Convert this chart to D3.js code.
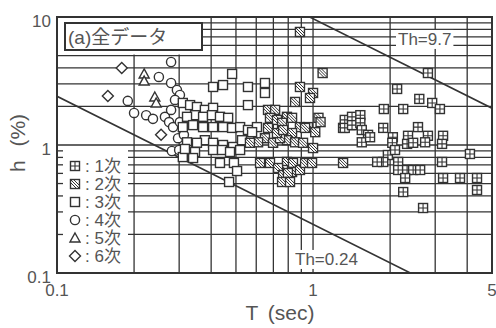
<!DOCTYPE html>
<html>
<head>
<meta charset="utf-8">
<script src="https://cdn.jsdelivr.net/npm/d3@7"></script>
<style>
  body { margin: 0; background: #fff; }
  text { fill: #555; font-family: 'Liberation Sans', 'Noto Sans CJK JP', sans-serif; }
</style>
</head>
<body>
<div id="chart"></div>
<script>
// data: [T (sec), h (%)]
var s1 = [[2.81, 3.65], [2.13, 2.74], [2.60, 2.29], [2.92, 2.13], [3.13, 1.91], [1.89, 1.91],
  [2.25, 1.91], [1.88, 1.36], [2.57, 1.38], [2.81, 1.18], [3.22, 1.18], [2.05, 1.15],
  [2.35, 1.18], [2.04, 1.04], [2.33, 1.02], [2.46, 1.04], [2.74, 1.05], [3.19, 1.02],
  [1.96, 0.835], [1.88, 0.737], [2.15, 0.737], [2.15, 0.638], [2.33, 0.638], [2.46, 0.638],
  [2.62, 0.638], [2.29, 0.552], [3.19, 0.737], [3.22, 0.552], [3.75, 0.552], [4.37, 0.552],
  [4.37, 0.445], [4.10, 0.851], [2.25, 0.429], [2.69, 0.322], [1.33, 1.57], [1.42, 1.66],
  [1.53, 1.71], [1.33, 1.36], [1.42, 1.43], [1.53, 1.49], [1.55, 1.31], [1.64, 1.20],
  [1.55, 1.05], [1.67, 1.15], [1.78, 0.737], [2.09, 0.914]]
var s2 = [[0.889, 7.64], [1.09, 3.65], [0.889, 2.84], [1.0, 2.55], [0.973, 2.33], [0.851, 2.17],
  [0.791, 1.66], [0.828, 1.63], [1.05, 1.63], [0.667, 1.88], [0.711, 1.88], [0.679, 1.63],
  [0.723, 1.57], [0.889, 1.38], [0.955, 1.38], [1.02, 1.26], [1.31, 1.36], [1.40, 1.43],
  [1.31, 0.724], [0.757, 1.49], [0.828, 1.24], [0.791, 1.09], [0.851, 1.05], [0.914, 1.04],
  [1.0, 0.947], [0.791, 0.737], [0.835, 0.724], [0.764, 0.638], [0.828, 0.615], [0.889, 0.638],
  [0.931, 0.724], [0.991, 0.724], [0.931, 1.36], [1.07, 1.51], [0.621, 0.724], [0.679, 0.724],
  [0.730, 0.661], [0.764, 0.583], [0.798, 0.604], [0.757, 0.514], [0.813, 0.514], [0.649, 1.13],
  [0.698, 1.04], [0.743, 1.13], [0.667, 1.36], [0.723, 1.24], [0.764, 1.31], [0.610, 1.05],
  [0.567, 1.04]]
var s3 = [[0.407, 2.84], [0.445, 2.94], [0.483, 3.59], [0.557, 2.84], [0.649, 3.05], [0.649, 2.55],
  [0.557, 2.05], [0.310, 2.13], [0.331, 2.05], [0.352, 1.98], [0.378, 1.88], [0.407, 1.95],
  [0.346, 1.71], [0.372, 1.66], [0.403, 1.71], [0.433, 1.66], [0.466, 1.63], [0.322, 1.66],
  [0.310, 1.38], [0.340, 1.43], [0.372, 1.38], [0.407, 1.38], [0.445, 1.38], [0.483, 1.36],
  [0.519, 1.38], [0.557, 1.31], [0.604, 1.38], [0.378, 1.09], [0.322, 1.05], [0.352, 1.04],
  [0.407, 1.04], [0.445, 1.0], [0.487, 0.965], [0.528, 1.09], [0.322, 0.914], [0.346, 0.882],
  [0.407, 0.914], [0.441, 0.914], [0.474, 0.882], [0.519, 0.914], [0.310, 0.805], [0.340, 0.791],
  [0.433, 0.724], [0.491, 0.724], [0.505, 0.626], [0.470, 0.514], [0.578, 1.26], [0.316, 0.931]]
var s4 = [[0.279, 4.45], [0.250, 3.40], [0.279, 3.05], [0.294, 2.69], [0.302, 2.46], [0.189, 2.21],
  [0.200, 1.78], [0.223, 1.71], [0.237, 1.60], [0.264, 1.66], [0.274, 1.51], [0.284, 1.38],
  [0.302, 1.51], [0.281, 0.898], [0.300, 0.914], [0.279, 1.88], [0.289, 2.25], [0.297, 1.13],
  [0.313, 1.20]]
var s5 = [[0.219, 3.59], [0.219, 3.16], [0.241, 2.37], [0.244, 2.13]]
var s6 = [[0.179, 4.0], [0.158, 2.41], [0.255, 1.20]]

var xTicks = [0.1, 1, 5]
var yTicks = [0.1, 1, 10]
var xGrid = [0.2, 0.3, 0.4, 0.5, 0.6, 0.7, 0.8, 0.9, 1, 2, 3, 4]
var yGrid = [0.2, 0.3, 0.4, 0.5, 0.6, 0.7, 0.8, 0.9, 1, 2, 3, 4, 5, 6, 7, 8, 9]
var thValues = [9.7, 0.24]
var legendLabels = ['1次', '2次', '3次', '4次', '5次', '6次']

var chart_width = 496
var chart_height = 328
var ink = '#333'

var svg = d3
  .select('#chart')
  .append('svg')
  .attr('width', chart_width)
  .attr('height', chart_height)

var x = d3.scaleLog().domain([0.1, 5]).range([57, 492])
var y = d3.scaleLog().domain([0.1, 10]).range([273, 17])

svg.append('clipPath').attr('id', 'plot-clip')
  .append('rect')
  .attr('x', x(0.1)).attr('y', y(10))
  .attr('width', x(5) - x(0.1)).attr('height', y(0.1) - y(10))

// grid
var grid = svg.append('g').attr('stroke', ink).attr('stroke-width', 1.3)
grid.selectAll('.vgrid').data(xGrid).enter().append('line')
  .attr('x1', d => x(d)).attr('x2', d => x(d))
  .attr('y1', y(10)).attr('y2', y(0.1))
grid.selectAll('.hgrid').data(yGrid).enter().append('line')
  .attr('x1', x(0.1)).attr('x2', x(5))
  .attr('y1', d => y(d)).attr('y2', d => y(d))

// white areas behind title and legend
svg.append('rect').attr('x', x(0.1)).attr('y', y(10))
  .attr('width', 146).attr('height', y(5) - y(10) - 1).attr('fill', '#fff')
svg.append('rect').attr('x', x(0.1)).attr('y', y(1) + 3)
  .attr('width', 71).attr('height', y(0.1) - y(1) - 3).attr('fill', '#fff')

// short ticks on the left edge in the legend area
svg.append('g').selectAll('line')
  .data(yGrid.filter(d => d < 1))
  .enter().append('line')
  .attr('x1', x(0.1)).attr('x2', x(0.1) + 6)
  .attr('y1', d => y(d)).attr('y2', d => y(d))
  .attr('stroke', ink).attr('stroke-width', 1.3)

// threshold lines h = Th / T
var line = d3.line().x(d => x(d[0])).y(d => y(d[1]))
svg.append('g').attr('clip-path', 'url(#plot-clip)')
  .selectAll('path').data(thValues).enter().append('path')
  .attr('d', th => line([[0.1, th / 0.1], [5, th / 5]]))
  .attr('fill', 'none').attr('stroke', ink).attr('stroke-width', 1.6)

// threshold labels
var thLabels = [{ text: 'Th=9.7', x: 398, y: 39 }, { text: 'Th=0.24', x: 295, y: 259 }]
thLabels.forEach(function (l) {
  var t = svg.append('text').attr('x', l.x).attr('y', l.y)
    .attr('dy', '0.35em').attr('font-size', 17).text(l.text)
  var b = t.node().getBBox()
  svg.insert('rect', 'text').attr('x', b.x - 2).attr('y', b.y)
    .attr('width', b.width + 4).attr('height', b.height).attr('fill', '#fff')
})

// plot border
svg.append('rect')
  .attr('x', x(0.1)).attr('y', y(10))
  .attr('width', x(5) - x(0.1)).attr('height', y(0.1) - y(10))
  .attr('fill', 'none').attr('stroke', ink).attr('stroke-width', 2)

// title box
svg.append('rect').attr('x', 65).attr('y', 23).attr('width', 137).attr('height', 27)
  .attr('fill', '#fff').attr('stroke', ink).attr('stroke-width', 2)
svg.append('text').attr('x', 68).attr('y', 37).attr('dy', '0.35em')
  .attr('font-size', 19).text('(a)全データ')

// markers
function drawMarker (g, kind) {
  var mk = { fill: '#fff', stroke: '#333', 'stroke-width': 1.4 }
  function st (sel) {
    Object.keys(mk).forEach(k => sel.attr(k, mk[k]))
    return sel
  }
  if (kind <= 2) {
    st(g.append('rect').attr('x', -4.5).attr('y', -4.5).attr('width', 9).attr('height', 9))
  }
  if (kind === 0) {
    g.append('path').attr('d', 'M0,-4.5V4.5M-4.5,0H4.5')
      .attr('stroke', '#333').attr('stroke-width', 1.1)
  }
  if (kind === 1) {
    g.append('path').attr('d', 'M-4.5,-4.5L4.5,4.5M-4.5,-1.5L1.5,4.5M-1.5,-4.5L4.5,1.5')
      .attr('stroke', '#333').attr('stroke-width', 1)
  }
  if (kind === 3) st(g.append('circle').attr('r', 4.6))
  if (kind === 4) st(g.append('path').attr('d', 'M0,-5L5,4L-5,4Z'))
  if (kind === 5) st(g.append('path').attr('d', 'M0,-5.5L5.5,0L0,5.5L-5.5,0Z'))
}

var allSeries = [s1, s2, s3, s4, s5, s6]
// draw later series first so the right-hand clusters sit on top
for (var k = allSeries.length - 1; k >= 0; k--) {
  svg.append('g').selectAll('g').data(allSeries[k]).enter().append('g')
    .attr('transform', d => 'translate(' + x(d[0]) + ',' + y(d[1]) + ')')
    .each(function () { drawMarker(d3.select(this), k) })
}

// legend
var legend = svg.append('g')
legendLabels.forEach(function (lab, i) {
  var ly = 166 + i * 18
  drawMarker(legend.append('g').attr('transform', 'translate(75,' + ly + ')'), i)
  legend.append('text').attr('x', 85).attr('y', ly).attr('dy', '0.35em')
    .attr('font-size', 17).text(': ' + lab)
})

// axis labels
svg.selectAll('.ylab').data(yTicks).enter().append('text')
  .attr('x', 51).attr('y', d => y(d) + 4).attr('dy', '0.35em')
  .attr('text-anchor', 'end').attr('font-size', 17).text(d => d)
svg.selectAll('.xlab').data(xTicks).enter().append('text')
  .attr('x', d => x(d)).attr('y', 290).attr('dy', '0.35em')
  .attr('text-anchor', 'middle').attr('font-size', 17).text(d => d)

svg.append('text').attr('x', 280).attr('y', 320).attr('text-anchor', 'middle')
  .attr('font-size', 21).attr('word-spacing', 4).text('T (sec)')
svg.append('text').attr('transform', 'translate(25,143) rotate(-90)')
  .attr('text-anchor', 'middle').attr('font-size', 21).attr('word-spacing', 8).text('h (%)')
</script>
</body>
</html>
